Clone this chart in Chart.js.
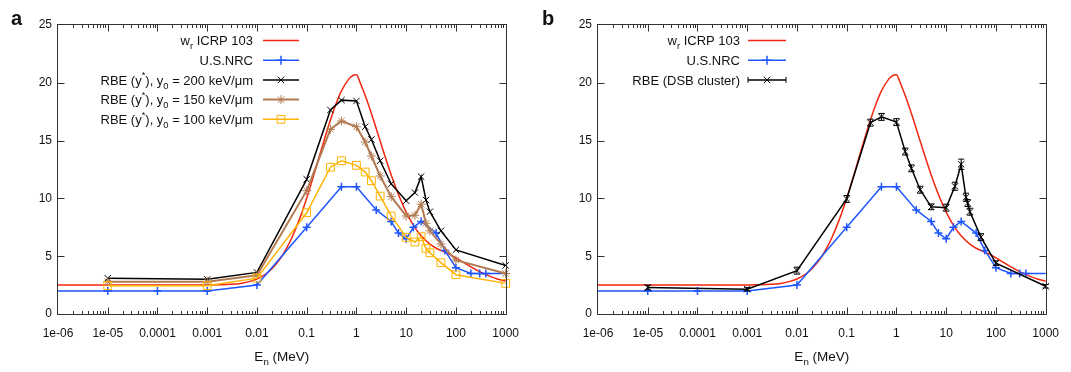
<!DOCTYPE html>
<html>
<head>
<meta charset="utf-8">
<script src="https://cdn.jsdelivr.net/npm/chart.js@4.4.1/dist/chart.umd.min.js"></script>
<style>
  html, body { margin: 0; padding: 0; background: #fff; }
  body { width: 1071px; height: 372px; position: relative; overflow: hidden; }
  .panel { position: absolute; top: 0; width: 531px; height: 372px; }
  #pa { left: 0; }
  #pb { left: 540px; }
</style>
</head>
<body>
<div class="panel" id="pa"><canvas id="chartA" width="531" height="372"></canvas></div>
<div class="panel" id="pb"><canvas id="chartB" width="531" height="372"></canvas></div>
<script>
// axis ticks
const tickValues = [1e-6, 1e-5, 1e-4, 1e-3, 0.01, 0.1, 1, 10, 100, 1000];
const tickLabels = ['1e-06', '1e-05', '0.0001', '0.001', '0.01', '0.1', '1', '10', '100', '1000'];
const yTicks = [0, 5, 10, 15, 20, 25];

// w_r ICRP 103 (MeV -> weighting factor)
const icrpE = [1e-6, 1e-4, 1e-3, 3e-3, 5e-3, 7e-3, 0.01, 0.015, 0.02, 0.03, 0.04, 0.05, 0.07, 0.1, 0.15, 0.2, 0.3, 0.4, 0.5, 0.7, 0.8, 0.9, 1,
  1.2, 1.5, 2, 3, 4, 5, 7, 10, 15, 20, 30, 40, 50, 70, 100, 150, 200, 300, 500, 700, 1000];
const icrpW = [2.5, 2.5, 2.51, 2.57, 2.67, 2.8, 3.03, 3.46, 3.92, 4.84, 5.74, 6.58, 8.1, 10.02, 12.49, 14.32, 16.79, 18.32, 19.3, 20.32, 20.55, 20.67, 20.69,
  19.96, 18.9, 17.34, 14.96, 13.27, 12.03, 10.33, 8.81, 7.47, 6.76, 6.04, 5.69, 5.5, 5.22, 4.86, 4.4, 4.08, 3.66, 3.23, 3.01, 2.84];

// U.S.NRC quality factor
const nrcE = [1e-6, 1e-5, 1e-4, 1e-3, 0.01, 0.1, 0.5, 1, 2.5, 5, 7, 10, 14, 20, 40, 60, 100, 200, 300, 400, 1000];
const nrcQ = [2, 2, 2, 2, 2.5, 7.5, 11, 11, 9, 8, 7, 6.5, 7.5, 8, 7, 5.5, 4, 3.5, 3.5, 3.5, 3.5];

// RBE (y*) for three y0 values, panel a
const rbeE = [1e-5, 1e-3, 0.01, 0.1, 0.3, 0.5, 1, 1.5, 2, 3, 5, 10, 15, 20, 25, 30, 50, 100, 1000];
const rbe200 = [3.1, 3.0, 3.6, 11.65, 17.65, 18.5, 18.43, 16.2, 15.1, 13.26, 11.25, 9.8, 10.5, 11.88, 9.86, 8.85, 7.2, 5.55, 4.2];
const rbe150 = [2.8, 2.8, 3.35, 10.67, 15.97, 16.7, 16.2, 14.88, 13.67, 11.94, 10.15, 8.48, 8.54, 9.5, 7.85, 7.2, 6.06, 4.66, 3.5];
const rbe100 = [2.45, 2.45, 3.1, 8.76, 12.7, 13.26, 12.86, 12.28, 11.53, 10.2, 8.48, 6.63, 6.23, 6.69, 5.68, 5.3, 4.44, 3.4, 2.65];

// RBE (DSB cluster), panel b, with error bars
const dsbE = [1e-5, 1e-3, 0.01, 0.1, 0.3, 0.5, 1, 1.5, 2, 3, 5, 10, 15, 20, 25, 27, 30, 50, 100, 1000];
const dsbR = [2.3, 2.15, 3.75, 9.95, 16.55, 17.05, 16.6, 14.05, 12.6, 10.75, 9.27, 9.2, 11.05, 12.95, 10.1, 9.6, 8.85, 6.65, 4.4, 2.4];
const dsbErr = [0.2, 0.15, 0.3, 0.3, 0.3, 0.3, 0.3, 0.3, 0.3, 0.3, 0.25, 0.3, 0.35, 0.45, 0.35, 0.3, 0.3, 0.3, 0.2, 0.15];

const FONT = '"Liberation Sans", Arial, Helvetica, sans-serif';
const RED = '#f2260f', BLUE = '#1e55ff', BROWN = '#b27b52', ORANGE = '#ffb300';

function pts(xs, ys) { return xs.map((x, i) => ({ x: x, y: ys[i] })); }

// hide markers sitting on the frame edge
const edgeless = c => (c.raw && (c.raw.x <= 1e-6 || c.raw.x >= 1000) ? 0 : 4);

function richParts(str) {
  const parts = [];
  const re = /([_^])\{([^}]*)\}/g;
  let last = 0, m;
  while ((m = re.exec(str))) {
    if (m.index > last) parts.push({ t: str.slice(last, m.index), k: '' });
    parts.push({ t: m[2], k: m[1] });
    last = re.lastIndex;
  }
  if (last < str.length) parts.push({ t: str.slice(last), k: '' });
  return parts;
}

function drawRich(ctx, str, x, y, size, align) {
  const parts = richParts(str);
  let w = 0;
  parts.forEach(p => {
    ctx.font = (p.k ? size * 0.72 : size) + 'px ' + FONT;
    p.w = ctx.measureText(p.t).width;
    w += p.w;
  });
  let cx = align === 'right' ? x - w : align === 'center' ? x - w / 2 : x;
  ctx.textAlign = 'left';
  ctx.textBaseline = 'alphabetic';
  parts.forEach(p => {
    ctx.font = (p.k ? size * 0.72 : size) + 'px ' + FONT;
    const dy = p.k === '_' ? size * 0.32 : p.k === '^' ? -size * 0.48 : 0;
    ctx.fillText(p.t, cx, y + dy);
    cx += p.w;
  });
}

function drawMarker(ctx, style, x, y, r) {
  ctx.beginPath();
  if (style === 'cross' || style === 'star') {
    ctx.moveTo(x - r, y); ctx.lineTo(x + r, y);
    ctx.moveTo(x, y - r); ctx.lineTo(x, y + r);
  }
  if (style === 'crossRot' || style === 'star') {
    const d = r * Math.SQRT1_2;
    ctx.moveTo(x - d, y - d); ctx.lineTo(x + d, y + d);
    ctx.moveTo(x - d, y + d); ctx.lineTo(x + d, y - d);
  }
  if (style === 'rect') {
    const d = r * Math.SQRT1_2;
    ctx.rect(x - d, y - d, 2 * d, 2 * d);
  }
  ctx.stroke();
}

const framePlugin = {
  id: 'frame',
  afterDatasetsDraw(chart, args, opts) {
    const ctx = chart.ctx;
    const a = chart.chartArea;
    const xs = chart.scales.x, ys = chart.scales.y;
    ctx.save();

    // error bars
    chart.data.datasets.forEach(ds => {
      if (!ds.err) return;
      ctx.strokeStyle = ds.borderColor;
      ctx.lineWidth = 1;
      ds.data.forEach((p, i) => {
        const px = xs.getPixelForValue(p.x);
        const y1 = ys.getPixelForValue(p.y + ds.err[i]);
        const y2 = ys.getPixelForValue(p.y - ds.err[i]);
        ctx.beginPath();
        ctx.moveTo(px, y1); ctx.lineTo(px, y2);
        ctx.moveTo(px - 3, y1); ctx.lineTo(px + 3, y1);
        ctx.moveTo(px - 3, y2); ctx.lineTo(px + 3, y2);
        ctx.stroke();
      });
    });

    // frame
    ctx.strokeStyle = '#333';
    ctx.lineWidth = 1;
    const L = Math.round(a.left) - 0.5, R = Math.round(a.right) + 0.5;
    const T = Math.round(a.top) - 0.5, B = Math.round(a.bottom) + 0.5;
    ctx.strokeRect(L, T, R - L, B - T);

    // ticks
    ctx.beginPath();
    tickValues.forEach((v, i) => {
      const px = Math.round(xs.getPixelForValue(v)) + 0.5;
      if (i > 0 && i < tickValues.length - 1) {
        ctx.moveTo(px, B); ctx.lineTo(px, B - 7);
        ctx.moveTo(px, T); ctx.lineTo(px, T + 7);
      }
      if (i < tickValues.length - 1) {
        [2, 3, 4, 5, 6, 7, 8, 9].forEach(k => {
          const mx = Math.round(xs.getPixelForValue(v * k)) + 0.5;
          ctx.moveTo(mx, B); ctx.lineTo(mx, B - 3.5);
          ctx.moveTo(mx, T); ctx.lineTo(mx, T + 3.5);
        });
      }
    });
    yTicks.forEach((v, i) => {
      if (i === 0 || i === yTicks.length - 1) return;
      const py = Math.round(ys.getPixelForValue(v)) + 0.5;
      ctx.moveTo(L, py); ctx.lineTo(L + 7, py);
      ctx.moveTo(R, py); ctx.lineTo(R - 7, py);
    });
    ctx.stroke();

    // axis title
    ctx.fillStyle = '#111';
    drawRich(ctx, 'E_{n} (MeV)', (a.left + a.right) / 2, 361, 13.5, 'center');

    // panel letter
    ctx.font = 'bold 20px ' + FONT;
    ctx.textAlign = 'left';
    ctx.textBaseline = 'alphabetic';
    ctx.fillText(opts.letter, opts.letterX, 25);

    // legend
    opts.rows.forEach((row, i) => {
      const ds = chart.data.datasets[row.ds];
      const y = 40.5 + 19.7 * i;
      ctx.fillStyle = '#111';
      drawRich(ctx, row.label, opts.textRight, y + 4.6, 13, 'right');
      ctx.strokeStyle = ds.borderColor;
      ctx.lineWidth = ds.borderWidth;
      ctx.beginPath();
      ctx.moveTo(opts.lineX1, y); ctx.lineTo(opts.lineX2, y);
      ctx.stroke();
      if (ds.err) {
        ctx.lineWidth = 1;
        ctx.beginPath();
        ctx.moveTo(opts.lineX1, y - 3); ctx.lineTo(opts.lineX1, y + 3);
        ctx.moveTo(opts.lineX2, y - 3); ctx.lineTo(opts.lineX2, y + 3);
        ctx.stroke();
      }
      if (ds.pointStyle && ds.legendMarker) {
        ctx.lineWidth = ds.pointBorderWidth || 1;
        drawMarker(ctx, ds.pointStyle, (opts.lineX1 + opts.lineX2) / 2, y, ds.legendMarker);
      }
    });
    ctx.restore();
  }
};

function baseOptions(frameOpts) {
  return {
    responsive: false,
    animation: false,
    events: [],
    layout: { padding: { top: 25, right: 17, left: 0, bottom: 0 } },
    plugins: { legend: { display: false }, tooltip: { enabled: false }, frame: frameOpts },
    scales: {
      x: {
        type: 'logarithmic', min: 1e-6, max: 1000,
        afterBuildTicks: s => { s.ticks = tickValues.map(v => ({ value: v })); },
        afterFit: s => { s.height = 58; },
        grid: { display: false, drawTicks: false },
        border: { display: false },
        ticks: {
          autoSkip: false, maxRotation: 0, padding: 12,
          color: '#111', font: { family: FONT, size: 12 },
          callback: (v, i) => tickLabels[i]
        }
      },
      y: {
        min: 0, max: 25,
        afterBuildTicks: s => { s.ticks = yTicks.map(v => ({ value: v })); },
        afterFit: s => { s.width = 58; },
        grid: { display: false, drawTicks: false },
        border: { display: false },
        ticks: { padding: 6, color: '#111', font: { family: FONT, size: 12 } }
      }
    }
  };
}

const icrpSet = () => ({
  data: pts(icrpE, icrpW), borderColor: RED, borderWidth: 1.5, pointRadius: 0,
  cubicInterpolationMode: 'monotone', clip: false, order: 5
});
const nrcSet = () => ({
  data: pts(nrcE, nrcQ), borderColor: BLUE, borderWidth: 1.5, pointStyle: 'cross',
  pointRadius: edgeless, pointBorderColor: BLUE, pointBorderWidth: 1.5, legendMarker: 4.5,
  clip: false, order: 4
});

new Chart(document.getElementById('chartA'), {
  type: 'line',
  data: {
    datasets: [
      icrpSet(),
      nrcSet(),
      { data: pts(rbeE, rbe200), borderColor: '#000', borderWidth: 1.5, pointStyle: 'crossRot',
        pointRadius: 4.5, pointBorderColor: '#000', pointBorderWidth: 1, legendMarker: 4.5, clip: false, order: 3 },
      { data: pts(rbeE, rbe150), borderColor: BROWN, borderWidth: 2, pointStyle: 'star',
        pointRadius: 4.5, pointBorderColor: BROWN, pointBorderWidth: 1, legendMarker: 4.5, clip: false, order: 2 },
      { data: pts(rbeE, rbe100), borderColor: ORANGE, borderWidth: 1.5, pointStyle: 'rect',
        pointRadius: 5.5, pointBorderColor: ORANGE, pointBackgroundColor: 'rgba(0,0,0,0)', pointBorderWidth: 1,
        legendMarker: 5.5, clip: false, order: 1 }
    ]
  },
  options: baseOptions({
    letter: 'a', letterX: 11, textRight: 253, lineX1: 263, lineX2: 299,
    rows: [
      { label: 'w_{r} ICRP 103', ds: 0 },
      { label: 'U.S.NRC', ds: 1 },
      { label: 'RBE (y^{*}), y_{0} = 200 keV/\u03bcm', ds: 2 },
      { label: 'RBE (y^{*}), y_{0} = 150 keV/\u03bcm', ds: 3 },
      { label: 'RBE (y^{*}), y_{0} = 100 keV/\u03bcm', ds: 4 }
    ]
  }),
  plugins: [framePlugin]
});

new Chart(document.getElementById('chartB'), {
  type: 'line',
  data: {
    datasets: [
      icrpSet(),
      nrcSet(),
      { data: pts(dsbE, dsbR), err: dsbErr, borderColor: '#000', borderWidth: 1.5, pointStyle: 'crossRot',
        pointRadius: 4.5, pointBorderColor: '#000', pointBorderWidth: 1, legendMarker: 4.5, clip: false, order: 1 }
    ]
  },
  options: baseOptions({
    letter: 'b', letterX: 2, textRight: 200, lineX1: 208, lineX2: 246,
    rows: [
      { label: 'w_{r} ICRP 103', ds: 0 },
      { label: 'U.S.NRC', ds: 1 },
      { label: 'RBE (DSB cluster)', ds: 2 }
    ]
  }),
  plugins: [framePlugin]
});
</script>
</body>
</html>
